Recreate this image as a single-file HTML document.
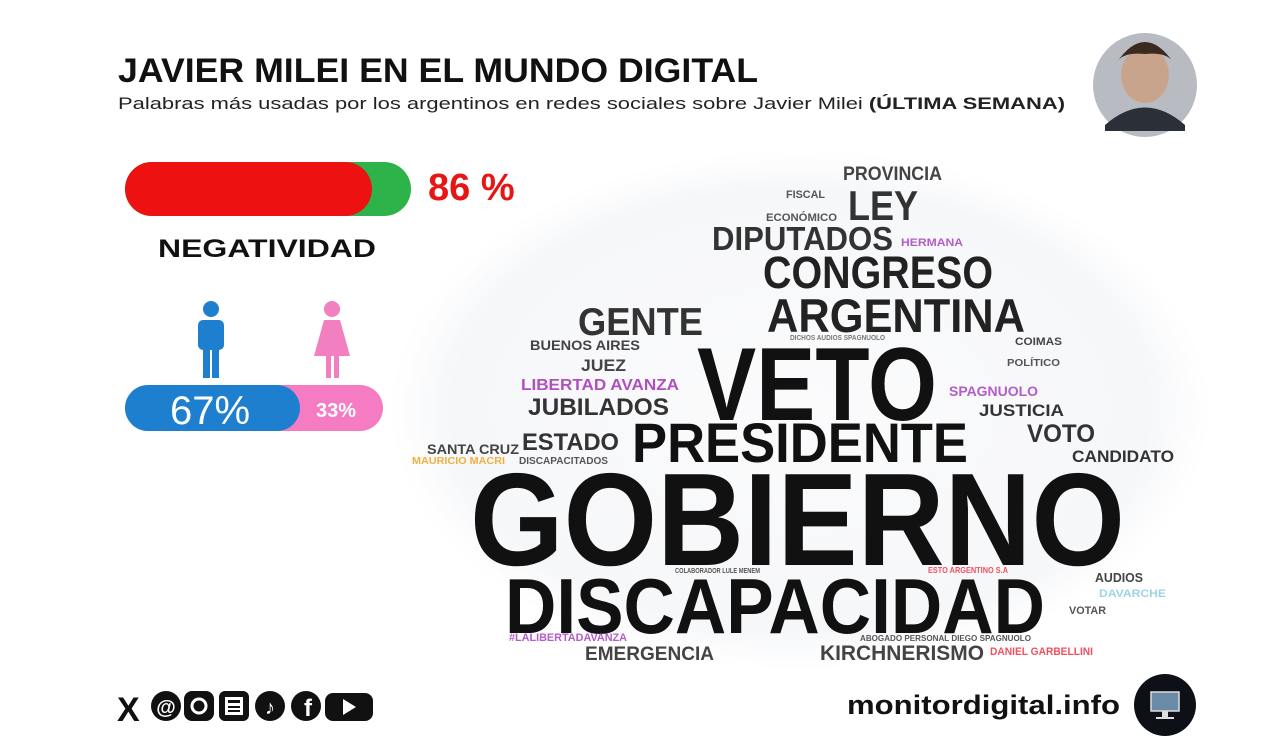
<!DOCTYPE html>
<html><head><meta charset="utf-8">
<style>
html,body{margin:0;padding:0;background:#fff;}
svg{display:block;font-family:"Liberation Sans",Arial,sans-serif;font-weight:bold;}
</style></head>
<body>
<svg width="1280" height="750" viewBox="0 0 1280 750">
<defs>
<radialGradient id="cloudg" cx="0.5" cy="0.5" r="0.5">
<stop offset="0" stop-color="#fbfbfc"/><stop offset="0.85" stop-color="#f6f7f9"/><stop offset="1" stop-color="#fff"/>
</radialGradient>
</defs>
<rect width="1280" height="750" fill="#fff"/>
<text x="118" y="82" font-size="34" fill="#111" textLength="640" lengthAdjust="spacingAndGlyphs">JAVIER MILEI EN EL MUNDO DIGITAL</text>
<text x="118" y="109" font-size="17" fill="#222" font-weight="normal" textLength="947" lengthAdjust="spacingAndGlyphs">Palabras más usadas por los argentinos en redes sociales sobre Javier Milei <tspan font-weight="bold">(ÚLTIMA SEMANA)</tspan></text>
<g>
<circle cx="1145" cy="85" r="52" fill="#b8bcc2"/>
<ellipse cx="1145" cy="75" rx="24" ry="28" fill="#c9a48c"/>
<path d="M1117 62 q28 -40 56 0 q-6 -10 -28 -8 q-22 -2 -28 8z" fill="#3a2a20"/>
<path d="M1105 125 q40 -35 80 0 l0 6 h-80z" fill="#2b2f38"/>
</g>
<g>
<rect x="125" y="162" width="286" height="54" rx="27" fill="#2db34a"/>
<rect x="125" y="162" width="247" height="54" rx="27" fill="#ee1111"/>
<text x="428" y="200" font-size="38" fill="#e81515">86 %</text>
<text x="158" y="257" font-size="25" fill="#111" textLength="218" lengthAdjust="spacingAndGlyphs">NEGATIVIDAD</text>
</g>
<g>
<g fill="#1e7fcf">
<circle cx="211" cy="309" r="8"/>
<rect x="198" y="320" width="26" height="30" rx="5"/>
<rect x="203" y="345" width="7" height="33"/><rect x="212" y="345" width="7" height="33"/>
</g>
<g fill="#f27fc0">
<circle cx="332" cy="309" r="8"/>
<path d="M324 320 h16 l10 36 h-36z"/>
<rect x="326" y="354" width="5" height="24"/><rect x="334" y="354" width="5" height="24"/>
</g>
<rect x="125" y="385" width="258" height="46" rx="23" fill="#f57cc3"/>
<rect x="125" y="385" width="175" height="46" rx="23" fill="#1e7fcf"/>
<text x="210" y="424" font-size="40" fill="#fff" text-anchor="middle" font-weight="normal">67%</text>
<text x="336" y="417" font-size="20" fill="#fff" text-anchor="middle">33%</text>
</g>
<ellipse cx="800" cy="410" rx="410" ry="260" fill="url(#cloudg)"/>
<g id="cloud"></g>
<g fill="#111">
<text x="117" y="721" font-size="34" font-weight="bold">X</text>
<circle cx="166" cy="706" r="15"/>
<text x="166" y="714" font-size="20" fill="#fff" text-anchor="middle">@</text>
<rect x="184" y="691" width="30" height="30" rx="8"/>
<circle cx="199" cy="706" r="7" fill="none" stroke="#fff" stroke-width="3"/>
<rect x="219" y="691" width="30" height="30" rx="6"/>
<rect x="225" y="697" width="18" height="18" fill="#fff"/><rect x="228" y="700" width="12" height="3"/><rect x="228" y="706" width="12" height="2"/><rect x="228" y="710" width="12" height="2"/>
<circle cx="270" cy="706" r="15"/>
<text x="270" y="714" font-size="20" fill="#fff" text-anchor="middle">♪</text>
<circle cx="306" cy="706" r="15"/>
<text x="308" y="716" font-size="24" fill="#fff" text-anchor="middle">f</text>
<rect x="325" y="693" width="48" height="28" rx="8"/>
<path d="M343 699 l13 8 l-13 8z" fill="#fff"/>
</g>
<text x="847" y="714" font-size="27" fill="#111" textLength="273" lengthAdjust="spacingAndGlyphs">monitordigital.info</text>
<g>
<circle cx="1165" cy="705" r="31" fill="#0d1117"/>
<rect x="1151" y="692" width="28" height="19" fill="#6a8aa8" stroke="#ddd" stroke-width="1.5"/>
<rect x="1162" y="711" width="6" height="6" fill="#ddd"/><rect x="1156" y="717" width="18" height="2" fill="#ddd"/>
</g>
<script>
const words = ["GOBIERNO","DISCAPACIDAD","VETO","PRESIDENTE","ARGENTINA","CONGRESO","GENTE","DIPUTADOS","LEY","PROVINCIA","FISCAL","ECONÓMICO","HERMANA","BUENOS AIRES","JUEZ","LIBERTAD AVANZA","JUBILADOS","ESTADO","SANTA CRUZ","DISCAPACITADOS","MAURICIO MACRI","COIMAS","POLÍTICO","SPAGNUOLO","JUSTICIA","VOTO","CANDIDATO","AUDIOS","DAVARCHE","VOTAR","COLABORADOR LULE MENEM","ESTO ARGENTINO S.A","#LALIBERTADAVANZA","EMERGENCIA","ABOGADO PERSONAL DIEGO SPAGNUOLO","KIRCHNERISMO","DANIEL GARBELLINI","DICHOS AUDIOS SPAGNUOLO"];
const wx = [470,505,697,632,767,763,578,712,848,843,786,766,901,530,581,521,528,522,427,519,412,1015,1007,949,979,1027,1072,1095,1099,1069,675,928,509,585,860,820,990,790];
const wy = [565,633,420,462,332,288,335,250,220,180,198,221,246,350,371,390,415,450,454,464,464,345,366,396,416,442,462,582,597,614,573,573,641,660,641,660,655,340];
const ww = [655,540,240,336,258,230,125,181,70,99,39,71,62,110,45,158,141,97,92,89,93,47,53,89,85,68,102,48,67,37,85,80,118,129,171,164,103,95];
const wh = [95,56,75,40,34,33,28,24,30,14,8,8,8,10,12,11,17,17,10,7,7,8,7,10,12,18,12,9,8,8,5,6,8,14,6,15,8,5];
const wc = ["#111","#111","#111","#111","#222","#222","#333","#333","#333","#444","#555","#555","#b45cc8","#444","#444","#b050c0","#333","#333","#444","#555","#f0b040","#444","#555","#b45cc8","#333","#333","#333","#444","#9fd3e6","#555","#555","#f05060","#b45cc8","#444","#555","#444","#f05060","#777"];
const g = document.getElementById('cloud');
const NS = 'http://www.w3.org/2000/svg';
for (let i = 0; i < words.length; i++) {
  const t = document.createElementNS(NS, 'text');
  
  
  t.setAttribute('x', wx[i]);
  t.setAttribute('y', wy[i]);
  t.setAttribute('font-size', (wh[i] / 0.72).toFixed(1));
  t.setAttribute('fill', wc[i]);
  t.setAttribute('textLength', ww[i]);
  t.setAttribute('lengthAdjust', 'spacingAndGlyphs');
  t.textContent = words[i];
  g.appendChild(t);
}
</script>
</svg>
</body></html>
